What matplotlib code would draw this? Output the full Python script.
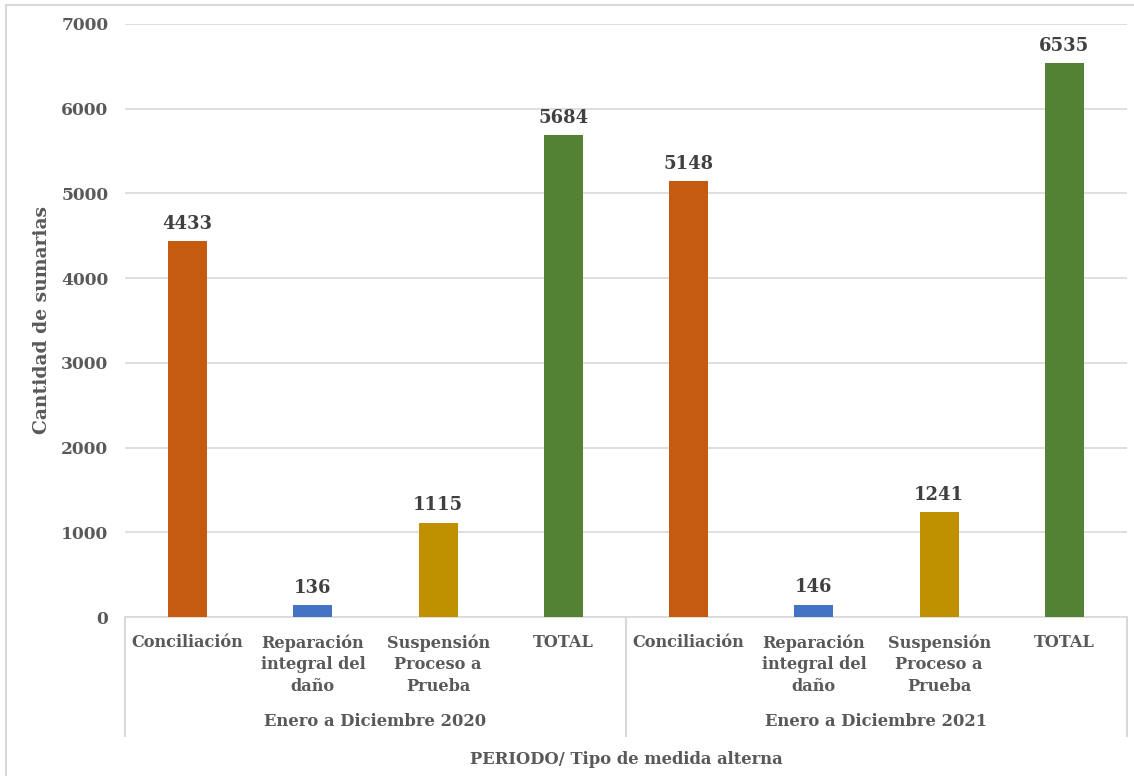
import matplotlib.pyplot as plt
from matplotlib.lines import Line2D
import matplotlib.transforms as mtransforms

# Data
periods = ["Enero a Diciembre 2020", "Enero a Diciembre 2021"]
measures = ["Conciliación", "Reparación\nintegral del\ndaño", "Suspensión\nProceso a\nPrueba", "TOTAL"]
values_2020 = [4433, 136, 1115, 5684]
values_2021 = [5148, 146, 1241, 6535]
bar_colors = ["#C55A11", "#4472C4", "#BF9000", "#548235"]
y_ticks = [0, 1000, 2000, 3000, 4000, 5000, 6000, 7000]

TEXT = "#595959"
GRID = "#D9D9D9"
FONT = "DejaVu Serif"

W, H = 1134, 776
fig = plt.figure(figsize=(W / 100, H / 100), dpi=100)
fig.patch.set_facecolor("white")

# outer frame (left and top edges)
fig.add_artist(Line2D([6 / W, 6 / W], [0, 1 - 5 / H], color=GRID, lw=1.5, transform=fig.transFigure))
fig.add_artist(Line2D([6 / W, 1], [1 - 5 / H, 1 - 5 / H], color=GRID, lw=1.5, transform=fig.transFigure))

left, right, top, bottom = 125, 1127, 24, 617
ax = fig.add_axes([left / W, 1 - bottom / H, (right - left) / W, (bottom - top) / H])

all_values = values_2020 + values_2021
n = len(all_values)
xs = list(range(n))
colors = bar_colors * len(periods)
ax.bar(xs, all_values, width=0.31, color=colors, zorder=3)

for x, v in zip(xs, all_values):
    ax.annotate(str(v), (x, v), xytext=(0, 6), textcoords="offset points",
                ha="center", va="bottom", fontsize=13, fontweight="bold",
                color="#404040", family=FONT)

ax.set_xlim(-0.5, n - 0.5)
ax.set_ylim(0, 7000)
ax.set_yticks(y_ticks)
ax.set_yticklabels([str(t) for t in y_ticks], fontsize=12.3, fontweight="bold", color=TEXT, family=FONT)
ax.tick_params(axis="y", length=0, pad=12)
ax.set_xticks([])
ax.grid(axis="y", color=GRID, lw=1.2, zorder=0)
for s in ["left", "right", "top"]:
    ax.spines[s].set_visible(False)
ax.spines["bottom"].set_color(GRID)
ax.spines["bottom"].set_linewidth(1.2)

trans = mtransforms.blended_transform_factory(ax.transData, ax.transAxes)
px = 1.0 / (bottom - top)

# category labels
for i, x in enumerate(xs):
    ax.text(x, -17 * px, measures[i % len(measures)], transform=trans, ha="center", va="top",
            fontsize=11.6, fontweight="bold", color=TEXT, family=FONT, linespacing=1.38)

# period labels and separators
k = len(measures)
for g, p in enumerate(periods):
    center = g * k + (k - 1) / 2
    ax.text(center, -(722 - bottom) * px, p, transform=trans, ha="center", va="center",
            fontsize=11.8, fontweight="bold", color=TEXT, family=FONT)
for b in range(len(periods) + 1):
    xb = b * k - 0.5
    ax.add_line(Line2D([xb, xb], [0, -(736 - bottom) * px], transform=trans, color=GRID,
                       lw=1.5, clip_on=False))

fig.text((left + right) / 2 / W, 1 - 760 / H, "PERIODO/ Tipo de medida alterna",
         ha="center", va="center", fontsize=11.8, fontweight="bold", color=TEXT, family=FONT)
fig.text(42 / W, 1 - (top + bottom) / 2 / H, "Cantidad de sumarias", rotation=90,
         ha="center", va="center", fontsize=13.5, fontweight="bold", color=TEXT, family=FONT)

fig.savefig("out.png", dpi=100, facecolor="white")
